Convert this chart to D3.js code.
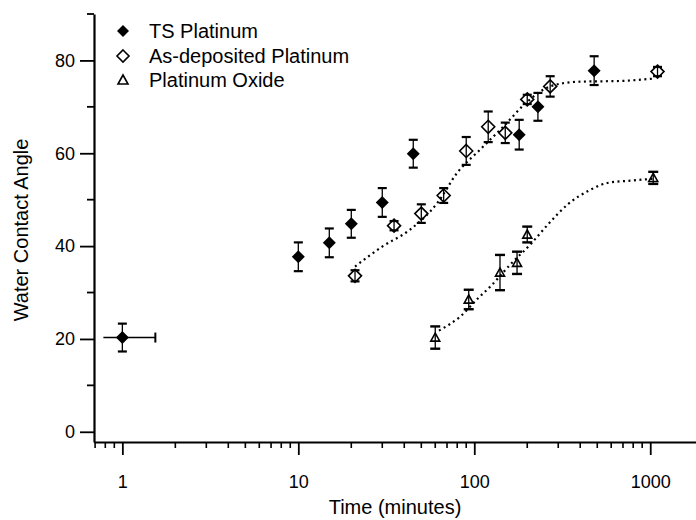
<!DOCTYPE html>
<html><head><meta charset="utf-8">
<script src="https://cdn.jsdelivr.net/npm/d3@7"></script>
<style>body{margin:0;background:#fff}svg{display:block}text{font-family:"Liberation Sans",Arial,sans-serif;fill:#000}</style>
</head><body><svg id="c" width="696" height="520"></svg>
<script>
const seriesNames = ["TS Platinum", "As-deposited Platinum", "Platinum Oxide"];
const tsTime  = [1, 10, 15, 20, 30, 45, 180, 230, 480];
const tsAngle = [20.3, 37.7, 40.7, 44.8, 49.4, 59.9, 64, 70, 77.8];
const tsErr   = [3, 3.1, 3.1, 3, 3.1, 3, 3.2, 3, 3.1];
const tsTimeLo = [0.78, null, null, null, null, null, null, null, null];
const tsTimeHi = [1.54, null, null, null, null, null, null, null, null];
const asTime  = [21, 35, 50, 67, 90, 120, 150, 200, 270, 1100];
const asAngle = [33.6, 44.4, 47, 50.9, 60.5, 65.7, 64.4, 71.6, 74.4, 77.6];
const asErr   = [1.2, 1, 2, 1.6, 3, 3.3, 2.2, 1, 2.2, 1];
const oxTime  = [60, 93, 140, 175, 200, 1040];
const oxAngle = [20.3, 28.5, 34.3, 36.4, 42.5, 54.7];
const oxErr   = [2.4, 2.1, 3.8, 2.4, 1.7, 1.3];
const asFitTime  = [21, 30, 43, 62, 80, 108, 146, 200, 270, 385, 700, 1050];
const asFitAngle = [35.6, 39.9, 43.5, 49.4, 55.8, 60.8, 65.7, 71.1, 74.4, 75.4, 75.6, 76.1];
const oxFitTime  = [63, 83, 104, 125, 160, 210, 260, 340, 450, 570, 770, 1040];
const oxFitAngle = [21.8, 24.8, 28.6, 31.5, 36, 40.5, 44.5, 49, 52, 53.6, 54.1, 54.5];
const xMajorTicks = [1, 10, 100, 1000];
const yMajorTicks = [0, 20, 40, 60, 80];
const yMinorTicks = [10, 30, 50, 70, 90];
const xTitle = "Time (minutes)";
const yTitle = "Water Contact Angle";

const svg = d3.select("#c");
const x = d3.scaleLog().domain([0.69, 1820]).range([94, 696]);
const y = d3.scaleLinear().domain([-2.2, 90]).range([442, 14]);

// minor x ticks
const xMinor = [];
[0.1, 1, 10, 100].forEach(d => { for (let k = 2; k <= 9; k++) { const v = d * k; if (v >= 0.69 && v <= 1820 && !xMajorTicks.includes(v)) xMinor.push(v); } });

const xAxisG = svg.append("g").attr("transform", "translate(0,442)");
xAxisG.call(d3.axisBottom(x).tickValues(xMajorTicks).tickSize(13).tickSizeOuter(0).tickPadding(20).tickFormat(d3.format("d")));
xAxisG.append("g").selectAll("line").data(xMinor).join("line")
  .attr("x1", d => x(d)).attr("x2", d => x(d)).attr("y1", 0).attr("y2", 6)
  .attr("stroke", "#000").attr("stroke-width", 1.6);
xAxisG.select(".domain").attr("stroke-width", 2.2);
xAxisG.selectAll(".tick line").attr("stroke-width", 1.8);
xAxisG.selectAll(".tick text").attr("font-size", 18).attr("font-family", "Liberation Sans, Arial, sans-serif");

const yAxisG = svg.append("g").attr("transform", "translate(94,0)");
yAxisG.call(d3.axisLeft(y).tickValues(yMajorTicks).tickSize(14).tickSizeOuter(0).tickPadding(5));
yAxisG.append("g").selectAll("line").data(yMinorTicks).join("line")
  .attr("x1", 0).attr("x2", -7).attr("y1", d => y(d)).attr("y2", d => y(d))
  .attr("stroke", "#000").attr("stroke-width", 1.8);
yAxisG.select(".domain").attr("stroke-width", 2.2);
yAxisG.selectAll(".tick line").attr("stroke-width", 1.8);
yAxisG.selectAll(".tick text").attr("font-size", 18).attr("font-family", "Liberation Sans, Arial, sans-serif");

svg.append("text").attr("x", 395).attr("y", 514).attr("text-anchor", "middle").attr("font-size", 20).text(xTitle);
svg.append("text").attr("transform", "translate(28,230) rotate(-90)").attr("text-anchor", "middle").attr("font-size", 20).text(yTitle);

// fit curves
const line = d3.line().x(d => x(d[0])).y(d => y(d[1])).curve(d3.curveMonotoneX);
[[asFitTime, asFitAngle], [oxFitTime, oxFitAngle]].forEach(([t, a]) => {
  svg.append("path").attr("d", line(t.map((v, i) => [v, a[i]])))
    .attr("fill", "none").attr("stroke", "#000").attr("stroke-width", 2.2).attr("stroke-dasharray", "2,3.5");
});

function errorBars(times, angles, errs, capW, capSW) {
  const g = svg.append("g");
  times.forEach((t, i) => {
    const cx = x(t), lo = y(angles[i] - errs[i]), hi = y(angles[i] + errs[i]);
    g.append("line").attr("x1", cx).attr("x2", cx).attr("y1", lo).attr("y2", hi).attr("stroke", "#000").attr("stroke-width", 1.3);
    [lo, hi].forEach(yy => g.append("line").attr("x1", cx - capW / 2).attr("x2", cx + capW / 2).attr("y1", yy).attr("y2", yy).attr("stroke", "#000").attr("stroke-width", capSW));
  });
}
errorBars(tsTime, tsAngle, tsErr, 9, 2.2);
errorBars(asTime, asAngle, asErr, 9, 2.2);
errorBars(oxTime, oxAngle, oxErr, 10, 2.4);

// horizontal error bar
tsTime.forEach((t, i) => {
  if (tsTimeLo[i] == null) return;
  const cy = y(tsAngle[i]);
  svg.append("line").attr("x1", x(tsTimeLo[i])).attr("x2", x(tsTimeHi[i])).attr("y1", cy).attr("y2", cy).attr("stroke", "#000").attr("stroke-width", 1.5);
  svg.append("line").attr("x1", x(tsTimeHi[i])).attr("x2", x(tsTimeHi[i])).attr("y1", cy - 5).attr("y2", cy + 5).attr("stroke", "#000").attr("stroke-width", 2);
});

const diamond = s => `M0,${-s}L${s},0L0,${s}L${-s},0Z`;
const tri = s => `M0,${-s}L${s},${s * 0.8}L${-s},${s * 0.8}Z`;

svg.append("g").selectAll("path").data(asTime).join("path")
  .attr("transform", (d, i) => `translate(${x(d)},${y(asAngle[i])})`)
  .attr("d", diamond(6.5)).attr("fill", "none").attr("stroke", "#000").attr("stroke-width", 1.6);
svg.append("g").selectAll("path").data(oxTime).join("path")
  .attr("transform", (d, i) => `translate(${x(d)},${y(oxAngle[i])})`)
  .attr("d", tri(4.5)).attr("fill", "none").attr("stroke", "#000").attr("stroke-width", 1.6);
svg.append("g").selectAll("path").data(tsTime).join("path")
  .attr("transform", (d, i) => `translate(${x(d)},${y(tsAngle[i])})`)
  .attr("d", diamond(6.5)).attr("fill", "#000");

// legend
const legY = [31, 56, 80];
const lg = svg.append("g");
lg.append("path").attr("transform", `translate(123,${legY[0]})`).attr("d", diamond(6)).attr("fill", "#000");
lg.append("path").attr("transform", `translate(123,${legY[1]})`).attr("d", diamond(6)).attr("fill", "none").attr("stroke", "#000").attr("stroke-width", 1.6);
lg.append("path").attr("transform", `translate(123,${legY[2]})`).attr("d", tri(5)).attr("fill", "none").attr("stroke", "#000").attr("stroke-width", 1.6);
seriesNames.forEach((n, i) => lg.append("text").attr("x", 149).attr("y", legY[i] + 7).attr("font-size", 20).text(n));
</script></body></html>
